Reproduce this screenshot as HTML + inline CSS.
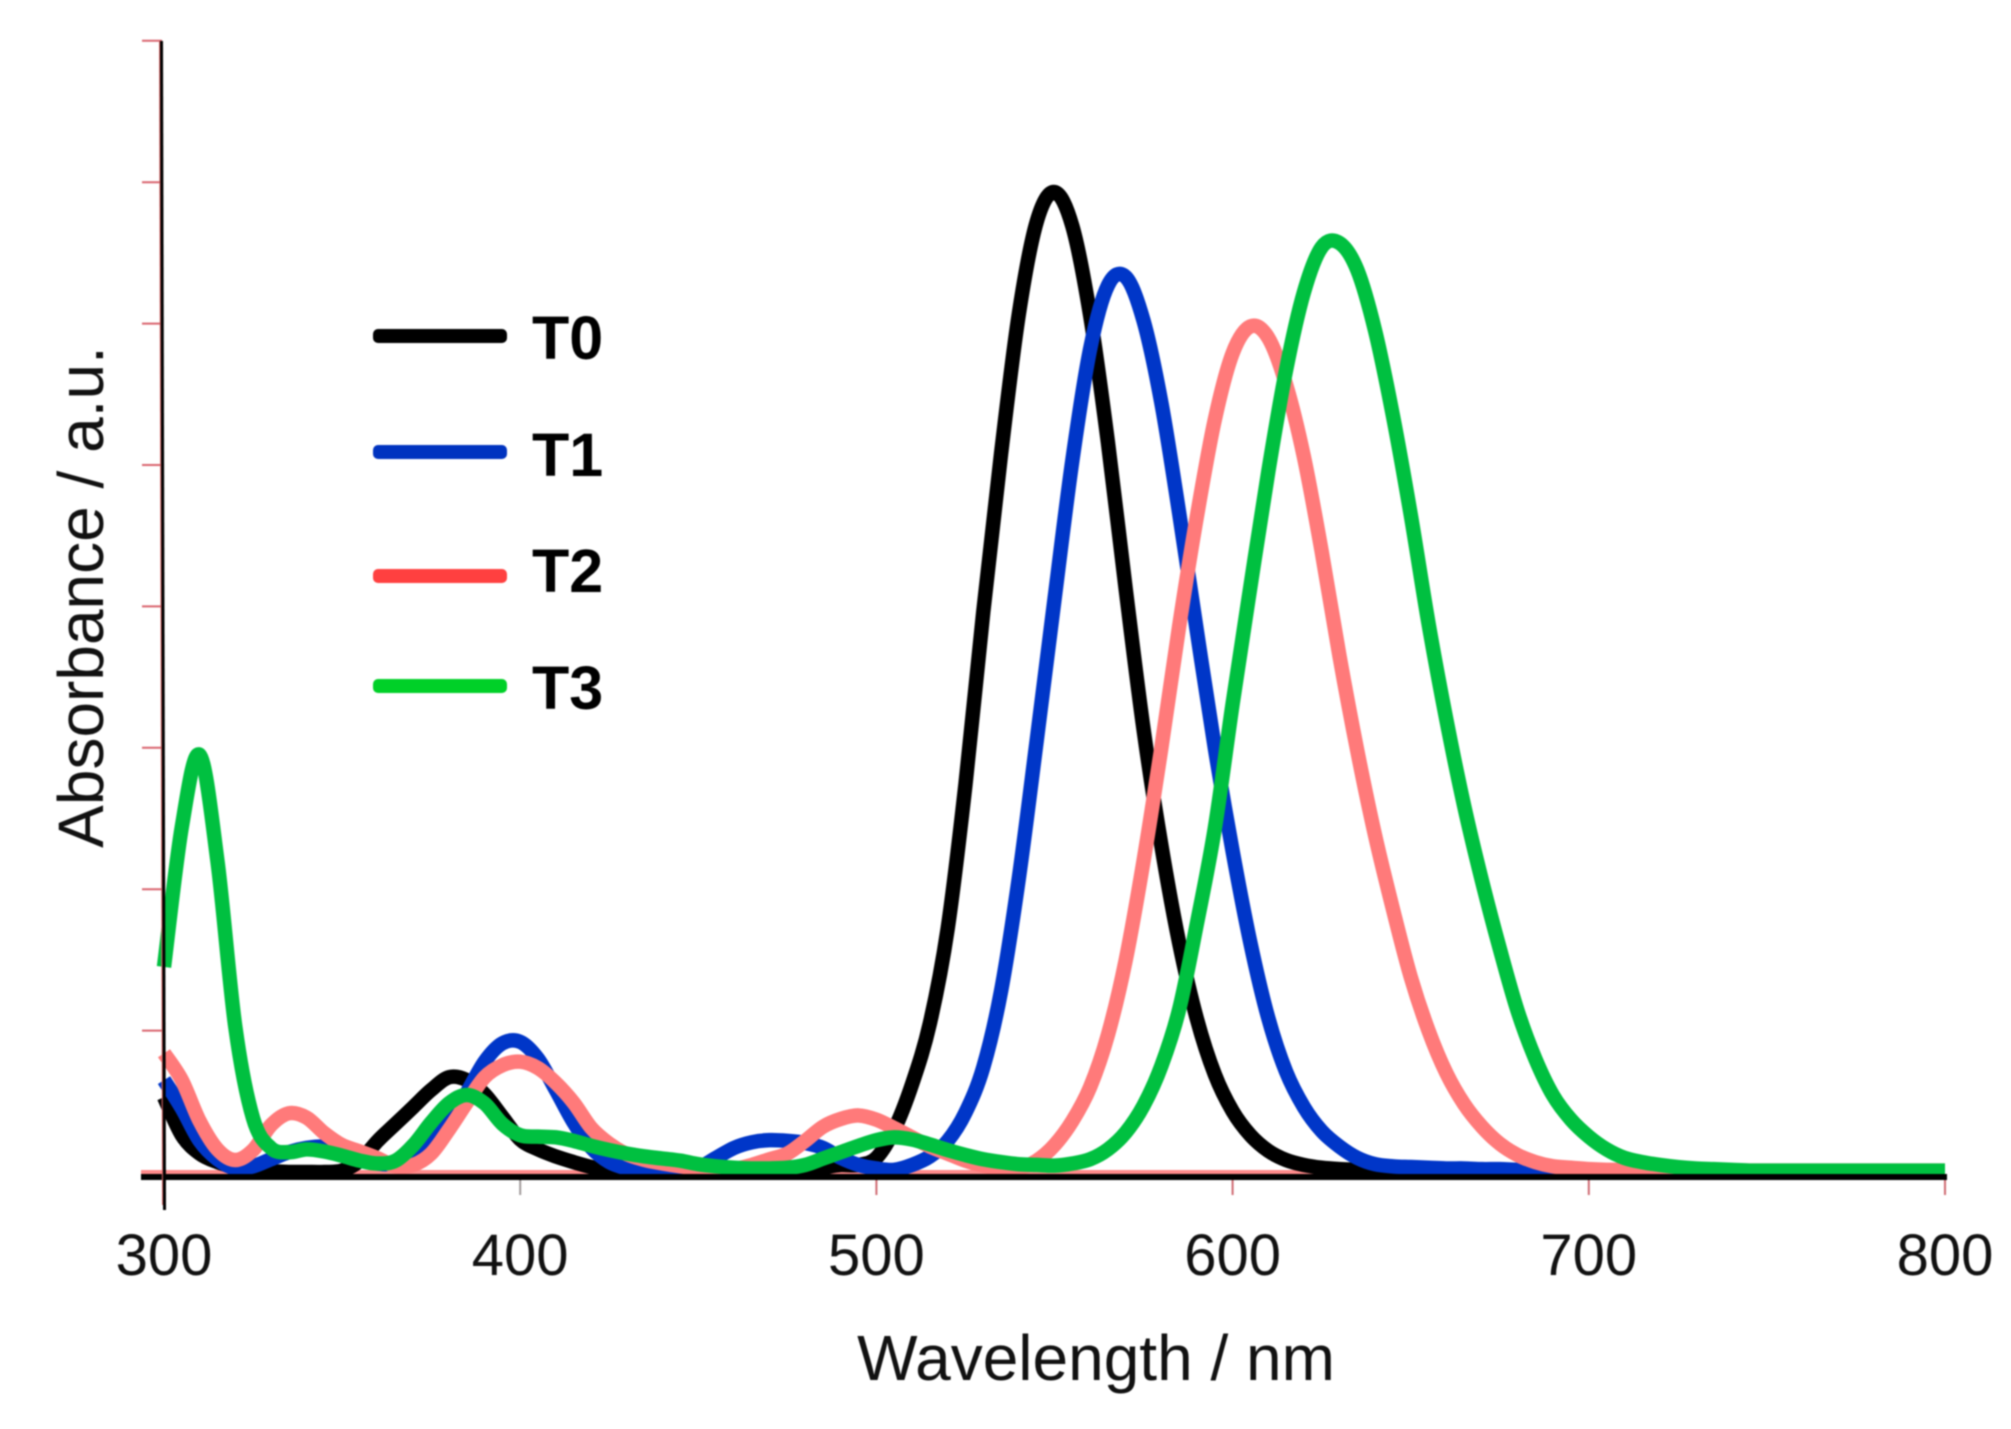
<!DOCTYPE html>
<html lang="en">
<head>
<meta charset="utf-8">
<title>Absorbance spectra T0–T3</title>
<style>
html,body{margin:0;padding:0;background:#fff;width:2011px;height:1429px;overflow:hidden}
svg{display:block;filter:blur(0.7px)}
text{font-family:"Liberation Sans",sans-serif}
</style>
</head>
<body>
<svg id="chart" xmlns="http://www.w3.org/2000/svg" width="2011" height="1429" viewBox="0 0 2011 1429">
  <rect x="0" y="0" width="2011" height="1429" fill="#fff"/>
  <g id="ticks"></g>
  <line x1="141" y1="1173" x2="1945" y2="1173" stroke="#ff8a8a" stroke-width="6"/>
  <g id="series"></g>
  <line x1="141" y1="1177" x2="1947" y2="1177" stroke="#000" stroke-width="6"/>
  <line x1="160" y1="41" x2="163" y2="1205" stroke="#e06a6a" stroke-width="2"/>
  <line x1="161.5" y1="41" x2="164.5" y2="1210" stroke="#000" stroke-width="3"/>
  <g id="xlabels"></g>
  <text x="1096" y="1380" font-size="64" text-anchor="middle" fill="#111">Wavelength / nm</text>
  <text transform="translate(103,597) rotate(-90)" font-size="64" text-anchor="middle" fill="#111">Absorbance / a.u.</text>
  <g>
    <rect x="373" y="329" width="134" height="14" rx="5" fill="#000"/>
    <text x="532" y="359" font-size="61" font-weight="bold" fill="#000">T0</text>
    <rect x="373" y="445" width="134" height="14" rx="5" fill="#0033c0"/>
    <text x="532" y="476" font-size="61" font-weight="bold" fill="#000">T1</text>
    <rect x="373" y="569" width="134" height="14" rx="5" fill="#ff4040"/>
    <text x="532" y="592" font-size="61" font-weight="bold" fill="#000">T2</text>
    <rect x="373" y="679" width="134" height="14" rx="5" fill="#00d028"/>
    <text x="532" y="709" font-size="61" font-weight="bold" fill="#000">T3</text>
  </g>
</svg>
<script>
const wavelengths = [
300,305,310,315,320,325,330,335,340,345,350,355,360,365,370,375,380,385,390,395,
400,405,410,415,420,425,430,435,440,445,450,455,460,465,470,475,480,485,490,495,
500,505,510,515,520,525,530,535,540,545,550,555,560,565,570,575,580,585,590,595,
600,605,610,615,620,625,630,635,640,645,650,655,660,665,670,675,680,685,690,695,
700,705,710,715,720,725,730,735,740,745,750,755,760,765,770,775,780,785,790,795,
800];
const t0Values = [
.53,.26,.13,.07,.035,.015,.005,0,0,0,.01,.08,.22,.34,.46,.58,.67,.65,.55,.39,
.23,.16,.11,.07,.035,.01,0,0,0,0,0,0,0,0,0,0,.01,.03,.05,.05,
.1,.3,.62,1.05,1.72,2.74,3.96,5.08,6.07,6.72,6.93,6.69,6.06,5.16,4.12,3.13,2.31,1.62,1.08,.69,
.43,.26,.15,.085,.05,.03,.02,.015,.01,0,0,0,0,0,0,0,0,0,0,0,
0,0,0,0,0,0,0,0,0,0,0,0,0,0,0,0,0,0,0,0,
0];
const t1Values = [
.65,.45,.22,.09,.025,.04,.09,.14,.17,.18,.15,.1,.06,.06,.1,.2,.35,.56,.78,.91,
.92,.8,.58,.35,.17,.07,.025,0,0,.005,.03,.1,.17,.21,.225,.22,.205,.17,.1,.05,
.025,.015,.05,.11,.22,.42,.74,1.28,2.08,3.05,4.05,5.03,5.82,6.27,6.33,6.02,5.44,4.66,3.82,3.0,
2.27,1.62,1.09,.71,.46,.29,.18,.1,.055,.04,.035,.03,.025,.025,.02,.02,.015,.015,.01,.005,
0,0,0,0,0,0,0,0,0,0,0,0,0,0,0,0,0,0,0,0,
0];
const t2Values = [
.84,.65,.36,.16,.085,.155,.33,.415,.385,.275,.19,.145,.097,.04,.05,.13,.3,.49,.67,.755,
.78,.735,.63,.49,.31,.2,.125,.085,.06,.04,.025,.015,.02,.05,.09,.13,.22,.32,.375,.4,
.37,.31,.245,.18,.13,.08,.045,.02,.025,.08,.19,.36,.6,.97,1.5,2.2,3.0,3.86,4.64,5.32,
5.79,5.98,5.9,5.57,5.06,4.39,3.65,2.98,2.38,1.86,1.38,1.0,.7,.48,.32,.2,.12,.07,.04,.03,
.02,.015,.015,.01,.01,.01,.01,.01,.01,.01,.01,.01,.01,.01,.01,.01,.01,.01,.01,.01,
.01];
const t3Values = [
1.45,2.44,2.95,2.2,1.03,.38,.17,.14,.16,.145,.115,.08,.06,.08,.19,.35,.486,.545,.485,.34,
.26,.25,.245,.22,.185,.155,.13,.11,.095,.08,.055,.04,.03,.025,.025,.03,.05,.095,.14,.185,
.225,.245,.23,.195,.155,.12,.09,.07,.055,.05,.045,.06,.09,.16,.28,.47,.75,1.15,1.76,2.43,
3.31,4.14,4.95,5.67,6.22,6.54,6.57,6.38,5.95,5.35,4.65,3.88,3.2,2.59,2.06,1.58,1.14,.8,.54,.37,
.25,.16,.1,.07,.05,.035,.025,.02,.015,.01,.01,.01,.01,.01,.01,.01,.01,.01,.01,.01,
.01];
const xTickLabels = [300,400,500,600,700,800];
const yTickValues = [1,2,3,4,5,6,7,8];

function xScale(w){ return 164 + (w - 300) * 3.562; }
function yScale(v){ return 1172 - v * 141.4; }

const SVG_NS = 'http://www.w3.org/2000/svg';

function smoothPath(xs, ys){
  const pts = xs.map(function(w, i){ return [xScale(w), yScale(ys[i])]; });
  let d = 'M' + pts[0][0].toFixed(2) + ' ' + pts[0][1].toFixed(2);
  for (let i = 0; i < pts.length - 1; i++){
    const p0 = pts[Math.max(0, i - 1)];
    const p1 = pts[i];
    const p2 = pts[i + 1];
    const p3 = pts[Math.min(pts.length - 1, i + 2)];
    const c1x = p1[0] + (p2[0] - p0[0]) / 6;
    const c1y = p1[1] + (p2[1] - p0[1]) / 6;
    const c2x = p2[0] - (p3[0] - p1[0]) / 6;
    const c2y = p2[1] - (p3[1] - p1[1]) / 6;
    d += 'C' + c1x.toFixed(2) + ' ' + c1y.toFixed(2) + ' ' + c2x.toFixed(2) + ' ' + c2y.toFixed(2) + ' ' + p2[0].toFixed(2) + ' ' + p2[1].toFixed(2);
  }
  return d;
}

const seriesGroup = document.getElementById('series');

function addSeries(name, values, colour){
  const path = document.createElementNS(SVG_NS, 'path');
  
  
  path.setAttribute('d', smoothPath(wavelengths, values));
  path.setAttribute('fill', 'none');
  path.setAttribute('stroke', colour);
  path.setAttribute('stroke-width', '14.5');
  path.setAttribute('stroke-linejoin', 'round');
  seriesGroup.appendChild(path);
}

addSeries('series-t0', t0Values, '#000000');
addSeries('series-t1', t1Values, '#0036c8');
addSeries('series-t2', t2Values, '#ff7a7a');
addSeries('series-t3', t3Values, '#00c040');

const tickGroup = document.getElementById('ticks');
const labelGroup = document.getElementById('xlabels');

xTickLabels.forEach(function(label){
  const x = xScale(label);
  const tick = document.createElementNS(SVG_NS, 'line');
  
  
  tick.setAttribute('x1', x);
  tick.setAttribute('x2', x);
  tick.setAttribute('y1', 1178);
  tick.setAttribute('y2', 1195);
  tick.setAttribute('stroke', label === 400 ? '#a09a9a' : '#cf6a72');
  tick.setAttribute('stroke-width', '2');
  tickGroup.appendChild(tick);

  const text = document.createElementNS(SVG_NS, 'text');
  
  
  text.setAttribute('x', x);
  text.setAttribute('y', 1275);
  text.setAttribute('font-size', '58');
  text.setAttribute('text-anchor', 'middle');
  text.setAttribute('fill', '#111');
  text.textContent = label;
  labelGroup.appendChild(text);
});

yTickValues.forEach(function(v){
  const y = yScale(v);
  const tick = document.createElementNS(SVG_NS, 'line');
  
  
  tick.setAttribute('x1', 142);
  tick.setAttribute('x2', 162);
  tick.setAttribute('y1', y);
  tick.setAttribute('y2', y);
  tick.setAttribute('stroke', '#d9646e');
  tick.setAttribute('stroke-width', '2');
  tickGroup.appendChild(tick);
});
</script>
</body>
</html>
